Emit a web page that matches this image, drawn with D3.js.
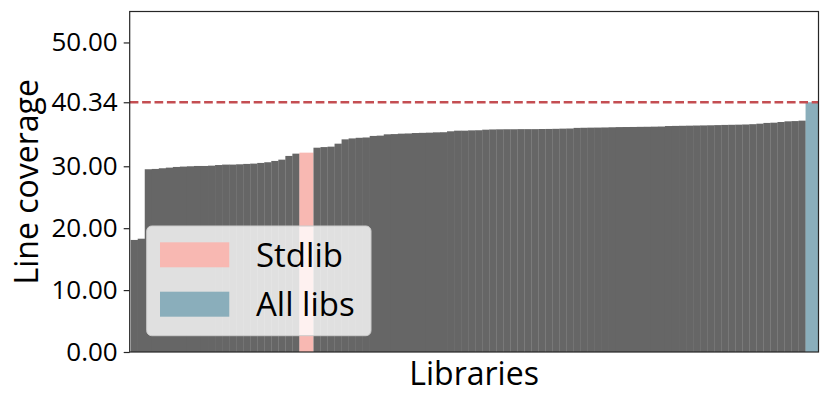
<!DOCTYPE html>
<html>
<head>
<meta charset="utf-8">
<script src="https://cdn.jsdelivr.net/npm/d3@7"></script>
<style>
  html, body { margin: 0; padding: 0; background: #fff; }
  svg { display: block; font-family: "Open Sans", sans-serif; }
</style>
</head>
<body>
<svg id="chart" width="830" height="403"></svg>
<script>
// ---- data ----
const barsBeforeStdlib = [18.1, 18.3, 29.52, 29.57, 29.68, 29.78, 29.89, 29.95, 30.0, 30.05,
  30.05, 30.1, 30.2, 30.27, 30.27, 30.32, 30.38, 30.43, 30.54, 30.65,
  30.86, 31.07, 31.67, 32.04];
const stdlibValue = 32.2;
const barsAfterStdlib = [33.0, 33.1, 33.17, 33.65, 34.35, 34.5, 34.6, 34.65, 34.9, 34.95,
  35.16, 35.2, 35.27, 35.3, 35.37, 35.4, 35.43, 35.48, 35.5, 35.65,
  35.75, 35.75, 35.8, 35.82, 35.91, 35.95, 35.97, 35.98, 35.98, 36.0,
  36.0, 36.0, 36.02, 36.03, 36.05, 36.08, 36.1, 36.2, 36.22, 36.24,
  36.25, 36.27, 36.3, 36.33, 36.34, 36.35, 36.37, 36.38, 36.4, 36.42,
  36.5, 36.52, 36.54, 36.56, 36.58, 36.6, 36.62, 36.65, 36.68, 36.7,
  36.72, 36.75, 36.8, 36.88, 37.0, 37.04, 37.15, 37.26, 37.3, 37.37];
const allLibsValue = 40.34;
const yTickValues = [0, 10, 20, 30, 40.34, 50];
const legendLabels = ["Stdlib", "All libs"];
const xLabel = "Libraries";
const yLabel = "Line coverage";

// ---- build bar list (unit widths: grey = 1, highlighted = 2) ----
const bars = [];
let pos = 0;
barsBeforeStdlib.forEach(v => { bars.push({x: pos, w: 1, v, kind: "lib"}); pos += 1; });
bars.push({x: pos, w: 2, v: stdlibValue, kind: "stdlib"}); pos += 2;
barsAfterStdlib.forEach(v => { bars.push({x: pos, w: 1, v, kind: "lib"}); pos += 1; });
bars.push({x: pos, w: 2, v: allLibsValue, kind: "all"}); pos += 2;

const colors = {lib: "#666666", stdlib: "#f8b8b2", all: "#8aaebb"};

// ---- layout ----
const pLeft = 129.7, pRight = 818.5, pTop = 11.5, pBottom = 352;
const svg = d3.select("#chart");

const x = d3.scaleLinear().domain([-0.14, 97.84]).range([pLeft, pRight]);
const y = d3.scaleLinear().domain([0, 55]).range([pBottom, pTop]);

svg.append("defs").append("clipPath").attr("id", "plotclip")
  .append("rect").attr("x", pLeft).attr("y", pTop)
  .attr("width", pRight - pLeft).attr("height", pBottom - pTop);

const g = svg.append("g").attr("clip-path", "url(#plotclip)");
g.selectAll("rect.bar").data(bars).enter().append("rect")
  .attr("class", "bar")
  .attr("x", d => x(d.x))
  .attr("width", d => x(d.x + d.w) - x(d.x) + (d.kind === "lib" ? 0.25 : 0))
  .attr("y", d => y(d.v))
  .attr("height", d => y(0) - y(d.v))
  .attr("fill", d => colors[d.kind]);

// reference dashed line
g.append("line")
  .attr("x1", pLeft).attr("x2", pRight)
  .attr("y1", y(allLibsValue)).attr("y2", y(allLibsValue))
  .attr("stroke", "#c44e52").attr("stroke-width", 2.4)
  .attr("stroke-dasharray", "8.7,3.7");

// y axis
const yAxis = d3.axisLeft(y).tickValues(yTickValues).tickFormat(d3.format(".2f"))
  .tickSize(6).tickPadding(6);
const ya = svg.append("g").attr("transform", `translate(${pLeft},0)`).call(yAxis);
ya.select(".domain").remove();
ya.selectAll(".tick line").attr("stroke", "#262626").attr("stroke-width", 1.2);
ya.selectAll(".tick text").attr("fill", "#000").style("font-size", "26px")
  .style("font-family", "'Open Sans', sans-serif");

// spines
svg.append("rect").attr("x", pLeft).attr("y", pTop)
  .attr("width", pRight - pLeft).attr("height", pBottom - pTop)
  .attr("fill", "none").attr("stroke", "#262626").attr("stroke-width", 1.2);

// axis labels
svg.append("text").attr("x", (pLeft + pRight) / 2).attr("y", 385)
  .attr("text-anchor", "middle").style("font-size", "32px").attr("fill", "#000")
  .text(xLabel);
svg.append("text")
  .attr("transform", `translate(37.5,${(pTop + pBottom) / 2}) rotate(-90)`)
  .attr("text-anchor", "middle").style("font-size", "32px").attr("fill", "#000")
  .text(yLabel);

// legend
const lg = svg.append("g");
lg.append("rect").attr("x", 146.7).attr("y", 226).attr("width", 224.3).attr("height", 109.7)
  .attr("rx", 5).attr("ry", 5)
  .attr("fill", "#ffffff").attr("fill-opacity", 0.8)
  .attr("stroke", "#cccccc").attr("stroke-width", 1);
const legendKinds = ["stdlib", "all"];
legendLabels.forEach((lab, i) => {
  const yy = 242.3 + i * 49.4;
  lg.append("rect").attr("x", 160).attr("y", yy).attr("width", 69.3).attr("height", 25)
    .attr("fill", colors[legendKinds[i]]);
  lg.append("text").attr("x", 256).attr("y", yy + 24.4)
    .style("font-size", "33px").attr("fill", "#000").text(lab);
});
</script>
</body>
</html>
